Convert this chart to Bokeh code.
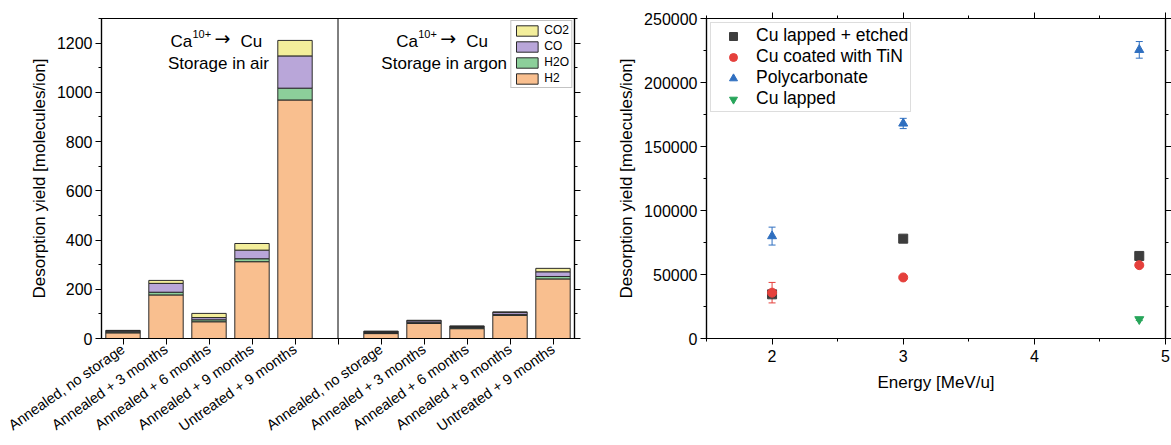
import math
from bokeh.plotting import figure
from bokeh.layouts import row
from bokeh.models import (ColumnDataSource, FixedTicker, SingleIntervalTicker, LinearAxis, Span,
                          Legend, LegendItem, Whisker, TeeHead, Range1d, Label, NumeralTickFormatter)
from bokeh.embed import file_html
from bokeh.resources import INLINE

FONT = "Liberation Sans"

# ---------------- Left chart data (stacked bars) ----------------
conditions = ["Annealed, no storage", "Annealed + 3 months", "Annealed + 6 months",
              "Annealed + 9 months", "Untreated + 9 months"]
gases = ["H2", "H2O", "CO", "CO2"]
air_h2 = [23, 177, 68, 312, 969]
air_h2o = [4, 11, 8, 12, 48]
air_co = [4, 36, 9, 35, 131]
air_co2 = [2, 12, 17, 27, 63]
argon_h2 = [20, 61, 40, 94, 242]
argon_h2o = [4, 5, 5, 4, 10]
argon_co = [4, 6, 4, 8, 19]
argon_co2 = [2, 2, 2, 2, 14]
gas_colors = ["#f9bf8f", "#8ccf9a", "#b9a6d9", "#f3ee9b"]
ion_name = "Ca"
ion_charge = "10+"
arrow = "→"
target_name = "Cu"
storage_titles = ["Storage in air", "Storage in argon"]
y1_ticks = [0, 200, 400, 600, 800, 1000, 1200]
y1_minor = [100, 300, 500, 700, 900, 1100, 1300]

# ---------------- Right chart data (scatter) ----------------
energy = [2, 3, 4.8]
etched_yield = [34500, 78000, 64500]
etched_err = [1500, 2000, 2000]
tin_yield = [35800, 47700, 57300]
tin_err = [8000, 1500, 1500]
poly_yield = [80000, 168000, 225500]
poly_err = [7000, 4000, 6500]
lapped_energy = [4.8]
lapped_yield = [15000]
lapped_err = [1000]
series_names = ["Cu lapped + etched", "Cu coated with TiN", "Polycarbonate", "Cu lapped"]
series_colors = ["#3d3d3d", "#e5403c", "#2f6fc0", "#27a55a"]
series_markers = ["square", "circle", "triangle", "inverted_triangle"]


def style_axis(ax, size="16px"):
    ax.axis_line_color = "black"
    ax.axis_line_width = 1.2
    ax.major_tick_line_color = "black"
    ax.minor_tick_line_color = "black"
    ax.major_tick_in = 0
    ax.major_tick_out = 6
    ax.minor_tick_in = 0
    ax.minor_tick_out = 3
    ax.major_label_text_font = FONT
    ax.major_label_text_font_size = size
    ax.major_label_text_color = "black"
    ax.axis_label_text_font = FONT
    ax.axis_label_text_font_size = "17px"
    ax.axis_label_text_font_style = "normal"
    ax.axis_label_text_color = "black"


def blank_axis(ax):
    style_axis(ax)
    ax.major_label_text_font_size = "1px"
    ax.major_label_text_color = None
    ax.major_label_text_alpha = 0
    ax.major_label_standoff = 0


# ================= Left figure =================
positions = list(range(5)) + list(range(6, 11))
src = ColumnDataSource(dict(
    x=positions,
    H2=air_h2 + argon_h2,
    H2O=air_h2o + argon_h2o,
    CO=air_co + argon_co,
    CO2=air_co2 + argon_co2,
))

p1 = figure(width=600, height=445, x_range=Range1d(-0.5, 10.5), y_range=Range1d(0, 1300),
            output_backend="svg", toolbar_location=None,
            min_border_left=101, min_border_right=26, min_border_top=18, min_border_bottom=107)
p1.xgrid.visible = False
p1.ygrid.visible = False
p1.outline_line_color = "black"
p1.outline_line_width = 1.2

rs = p1.vbar_stack(gases, x="x", width=0.8, source=src, fill_color=gas_colors,
                   line_color="#2a2a2a", line_width=1)

legend1 = Legend(items=[LegendItem(label=g, renderers=[r]) for g, r in reversed(list(zip(gases, rs)))],
                 location="top_right", margin=2, padding=2, spacing=2,
                 glyph_width=27, glyph_height=13, label_height=13, label_standoff=4,
                 label_text_font=FONT, label_text_font_size="12px", label_text_color="black",
                 border_line_color="#888888", border_line_width=1, background_fill_alpha=1)
p1.add_layout(legend1)

p1.add_layout(Span(location=5, dimension="height", line_color="black", line_width=1))

title_centers = [2.22, 7.47]
for cx, st in zip(title_centers, storage_titles):
    # first line: Ca^{10+} -> Cu, with a raised, smaller charge
    p1.add_layout(Label(x=cx, y=1208, x_offset=-48, text=ion_name, text_align="left",
                        text_baseline="alphabetic", text_font=FONT, text_font_size="17px",
                        text_color="black"))
    p1.add_layout(Label(x=cx, y=1208, x_offset=-26, y_offset=7, text=ion_charge, text_align="left",
                        text_baseline="alphabetic", text_font=FONT, text_font_size="11px",
                        text_color="black"))
    p1.add_layout(Label(x=cx, y=1208, x_offset=-4, y_offset=3, text=arrow, text_align="left",
                        text_baseline="middle", text_font="DejaVu Sans", text_font_size="19px",
                        text_color="black"))
    p1.add_layout(Label(x=cx, y=1208, x_offset=22, text=target_name, text_align="left",
                        text_baseline="alphabetic", text_font=FONT, text_font_size="17px",
                        text_color="black"))
    p1.add_layout(Label(x=cx, y=1118, text=st, text_align="center", text_baseline="alphabetic",
                        text_font=FONT, text_font_size="17px", text_color="black"))

xa = p1.xaxis[0]
style_axis(xa, "14.5px")
xa.ticker = FixedTicker(ticks=positions, minor_ticks=[5])
xa.minor_tick_out = 6
overrides = {}
for i, c in enumerate(conditions):
    overrides[i] = c
    overrides[i + 6] = c
xa.major_label_overrides = overrides
xa.major_label_orientation = math.radians(35)
xa.major_label_standoff = 3

ya = p1.yaxis[0]
style_axis(ya)
ya.ticker = FixedTicker(ticks=y1_ticks, minor_ticks=y1_minor)
ya.axis_label = "Desorption yield [molecules/ion]"
ya.major_label_standoff = 3

ra = LinearAxis(ticker=FixedTicker(ticks=y1_ticks, minor_ticks=y1_minor))
blank_axis(ra)
p1.add_layout(ra, "right")

# ================= Right figure =================
p2 = figure(width=571, height=445, x_range=Range1d(1.5, 5), y_range=Range1d(0, 250000),
            output_backend="svg", toolbar_location=None,
            min_border_left=106, min_border_right=5, min_border_top=15, min_border_bottom=107)
p2.xgrid.visible = False
p2.ygrid.visible = False
p2.outline_line_color = "black"
p2.outline_line_width = 1.2

series = [
    (energy, etched_yield, etched_err),
    (energy, tin_yield, tin_err),
    (energy, poly_yield, poly_err),
    (lapped_energy, lapped_yield, lapped_err),
]
items = []
for (xs, ys, es), name, col, mk in zip(series, series_names, series_colors, series_markers):
    s = ColumnDataSource(dict(x=xs, y=ys, lo=[y - e for y, e in zip(ys, es)],
                              hi=[y + e for y, e in zip(ys, es)]))
    w = Whisker(source=s, base="x", upper="hi", lower="lo", line_color=col, line_width=1,
                upper_head=TeeHead(size=7, line_color=col, line_width=1),
                lower_head=TeeHead(size=7, line_color=col, line_width=1))
    p2.add_layout(w)
    r = p2.scatter("x", "y", source=s, marker=mk, size=9, fill_color=col, line_color=col)
    items.append(LegendItem(label=name, renderers=[r]))

legend2 = Legend(items=items, location="top_left", margin=4, padding=2, spacing=0,
                 glyph_width=40, glyph_height=20, label_height=20, label_standoff=3,
                 label_text_font=FONT, label_text_font_size="17.5px", label_text_color="black",
                 border_line_color="#bbbbbb", border_line_width=1)
p2.add_layout(legend2)

xb = p2.xaxis[0]
style_axis(xb)
xb.ticker = SingleIntervalTicker(interval=1, num_minor_ticks=2)
xb.axis_label = "Energy [MeV/u]"
xb.axis_label_standoff = 8

yb = p2.yaxis[0]
style_axis(yb)
yb.ticker = SingleIntervalTicker(interval=50000, num_minor_ticks=2)
yb.formatter = NumeralTickFormatter(format="0")
yb.axis_label = "Desorption yield [molecules/ion]"
yb.major_label_standoff = 3

tb = LinearAxis(ticker=SingleIntervalTicker(interval=1, num_minor_ticks=2))
blank_axis(tb)
p2.add_layout(tb, "above")
rb = LinearAxis(ticker=SingleIntervalTicker(interval=50000, num_minor_ticks=2))
blank_axis(rb)
p2.add_layout(rb, "right")

layout = row(p1, p2)
open("out.html", "w").write(file_html(layout, INLINE))
